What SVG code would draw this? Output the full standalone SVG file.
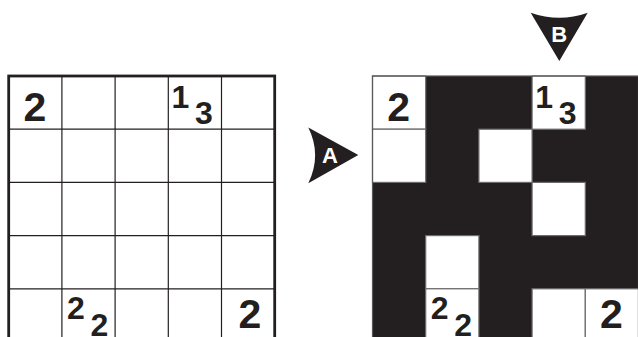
<svg xmlns="http://www.w3.org/2000/svg" width="638" height="337" viewBox="0 0 638 337">
  <style>
    .big { font-family: "Liberation Sans", Arial, sans-serif; font-weight: bold; font-size: 41px; fill: #231f20; }
    .sm { font-family: "Liberation Sans", Arial, sans-serif; font-weight: bold; font-size: 32px; fill: #231f20; }
    .lbl { font-family: "Liberation Sans", Arial, sans-serif; font-weight: bold; font-size: 22px; fill: #ffffff; text-anchor: middle; }
    .inner { stroke: #231f20; stroke-width: 1.2; fill: none; }
    .outer { stroke: #231f20; stroke-width: 2.8; fill: none; }
    .wc { fill: #ffffff; stroke: #6d6b6c; stroke-width: 1.2; }
    .ink { fill: #231f20; }
  </style>
  <rect width="638" height="337" fill="#ffffff"/>

  <!-- Left grid (puzzle) -->
  <g id="grid-left">
    <rect x="8.7" y="76" width="266" height="266" fill="#ffffff"/>
    <g class="inner">
      <line x1="61.9" y1="76" x2="61.9" y2="342"/>
      <line x1="115.1" y1="76" x2="115.1" y2="342"/>
      <line x1="168.3" y1="76" x2="168.3" y2="342"/>
      <line x1="221.5" y1="76" x2="221.5" y2="342"/>
      <line x1="8.7" y1="129.2" x2="274.7" y2="129.2"/>
      <line x1="8.7" y1="182.4" x2="274.7" y2="182.4"/>
      <line x1="8.7" y1="235.6" x2="274.7" y2="235.6"/>
      <line x1="8.7" y1="288.8" x2="274.7" y2="288.8"/>
    </g>
    <rect class="outer" x="8.7" y="76" width="266" height="266"/>
    <text class="big" x="23.5" y="120.5">2</text>
    <text class="sm" x="171.5" y="108">1</text>
    <text class="sm" x="195" y="123.5">3</text>
    <text class="sm" x="67" y="318.5">2</text>
    <text class="sm" x="90.5" y="335.5">2</text>
    <text class="big" x="238.5" y="328.3">2</text>
  </g>

  <!-- Right grid (solution) -->
  <g id="grid-right">
    <rect x="372.5" y="76" width="266" height="266" class="ink"/>
    <rect class="wc" x="372.5" y="76" width="53.2" height="53.2"/>
    <rect class="wc" x="532.1" y="76" width="53.2" height="53.2"/>
    <rect class="wc" x="372.5" y="129.2" width="53.2" height="53.2"/>
    <rect class="wc" x="478.9" y="129.2" width="53.2" height="53.2"/>
    <rect class="wc" x="532.1" y="182.4" width="53.2" height="53.2"/>
    <rect class="wc" x="425.7" y="235.6" width="53.2" height="53.2"/>
    <rect class="wc" x="425.7" y="288.8" width="53.2" height="53.2"/>
    <rect class="wc" x="532.1" y="288.8" width="53.2" height="53.2"/>
    <rect class="wc" x="585.3" y="288.8" width="53.2" height="53.2"/>
    <rect x="372.5" y="76" width="266" height="266" fill="none" stroke="#5a5859" stroke-width="1.2"/>
    <text class="big" x="387.3" y="120.5">2</text>
    <text class="sm" x="535.3" y="108">1</text>
    <text class="sm" x="558.8" y="123.5">3</text>
    <text class="sm" x="430.8" y="318.5">2</text>
    <text class="sm" x="454.3" y="335.5">2</text>
    <text class="big" x="600" y="328.3">2</text>
  </g>

  <!-- Arrow markers -->
  <g id="arrow-A">
    <path class="ink" d="M308.3,127.5 L358.3,155 L308.3,183.3 Q322,155 308.3,127.5 Z"/>
    <text class="lbl" x="330" y="163">A</text>
  </g>
  <g id="arrow-B">
    <path class="ink" d="M530.7,12.7 Q559.3,23 587.7,12.7 L559.3,61 Z"/>
    <text class="lbl" x="559.3" y="41.5">B</text>
  </g>
</svg>
